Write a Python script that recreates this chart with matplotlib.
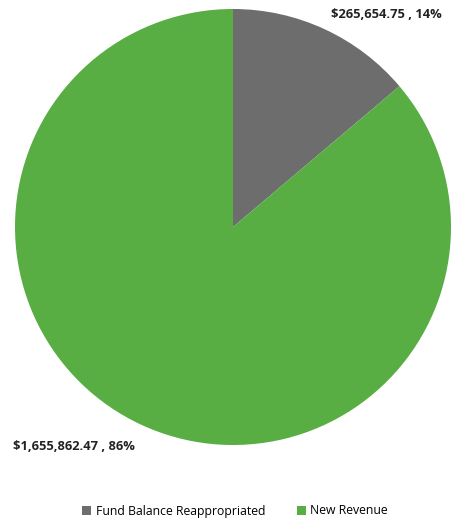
import matplotlib.pyplot as plt
from matplotlib.patches import Patch

categories = ['Fund Balance Reappropriated', 'New Revenue']
amounts = [265654.75, 1655862.47]
percents = [14, 86]
colors = ['#6d6d6d', '#58ad43']

plt.rcParams['font.family'] = ['Open Sans', 'DejaVu Sans']

fig = plt.figure(figsize=(4.53, 5.22), dpi=100)
# pie centre ~ (233, 227) px, radius ~218 px
ax = fig.add_axes([15 / 453, (522 - 445) / 522, 436 / 453, 436 / 522])
ax.pie(amounts, colors=colors, startangle=90, counterclock=False,
       wedgeprops=dict(linewidth=0))
ax.set_xlim(-1, 1)
ax.set_ylim(-1, 1)
ax.set_aspect('equal')
ax.axis('off')

def fmt(a, p):
    return '${:,.2f} , {}%'.format(a, p)

fig.text(331 / 453, 1 - 14 / 522, fmt(amounts[0], percents[0]),
         fontsize=9.3, fontweight='bold', color='#222222', va='center', ha='left')
fig.text(13 / 453, 1 - 446 / 522, fmt(amounts[1], percents[1]),
         fontsize=9.3, fontweight='bold', color='#222222', va='center', ha='left')

handles = [Patch(facecolor=c, edgecolor='none') for c in colors]
fig.legend(handles, categories, loc='center', bbox_to_anchor=(235 / 453, 1 - 511 / 522),
           ncol=2, frameon=False, fontsize=8.8, handlelength=0.75, handleheight=0.75,
           handletextpad=0.35, columnspacing=2.6)

fig.savefig('out.png', dpi=100)
